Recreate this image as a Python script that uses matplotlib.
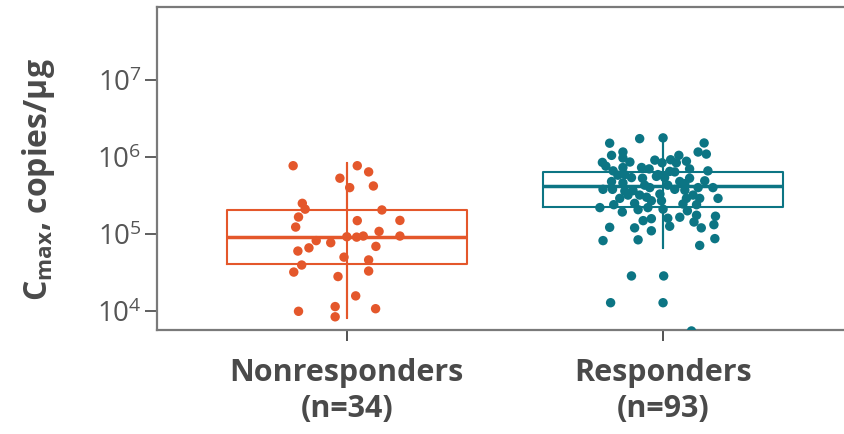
import numpy as np
import matplotlib
matplotlib.use("Agg")
import matplotlib.pyplot as plt
from matplotlib.ticker import NullLocator

plt.rcParams["font.family"] = ["Open Sans", "DejaVu Sans"]
plt.rcParams["mathtext.fontset"] = "custom"
plt.rcParams["mathtext.rm"] = "Open Sans"
plt.rcParams["mathtext.bf"] = "Open Sans:bold"

# category labels
groups = ["Nonresponders\n(n=34)", "Responders\n(n=93)"]

# box summary values (copies/ug)
q1 = [4.07e4, 2.24e5]
median = [9.1e4, 4.2e5]
q3 = [2.05e5, 6.4e5]
whis_lo = [8.1e3, 6.6e4]
whis_hi = [8.4e5, 1.93e6]

# individual points: jittered x position and Cmax
nonresp_x = [0.830, 1.033, 1.069, 0.978, 1.009, 1.084, 0.859, 0.868, 1.111, 0.847,
             1.033, 1.168, 0.838, 1.102, 0.903, 0.949, 1.031, 1.052, 1.168, 1.092,
             0.845, 0.880, 0.991, 1.069, 0.857, 0.832, 1.069, 0.972, 1.028, 0.847,
             0.963, 0.963, 1.091, 1.000]
nonresp_y = [7.7e5, 7.7e5, 6.4e5, 5.3e5, 4.0e5, 4.2e5, 2.5e5, 2.1e5, 2.05e5, 1.66e5,
             1.49e5, 1.5e5, 1.23e5, 1.08e5, 8.2e4, 7.7e4, 9.1e4, 9.4e4, 9.4e4, 6.9e4,
             6.0e4, 6.6e4, 5.0e4, 4.6e4, 3.95e4, 3.2e4, 3.3e4, 2.8e4, 1.57e4, 9.9e3,
             1.14e4, 8.4e3, 1.07e4, 9.2e4]

resp_x = [1.927, 1.832, 1.874, 1.838, 1.874, 1.809, 1.820, 1.843, 1.874, 1.880,
          1.933, 1.957, 1.901, 1.936, 1.838, 1.874, 1.811, 1.841, 1.880, 1.906,
          1.959, 1.980, 1.890, 1.927, 1.964, 1.801, 1.845, 1.872, 1.922, 1.964,
          1.938, 1.911, 1.832, 1.964, 1.811, 1.922,
          2.001, 2.131, 2.112, 2.138, 2.051, 2.025, 2.075, 1.998, 2.043, 2.085,
          2.022, 2.143, 1.985, 2.006, 2.054, 2.070, 2.133, 2.159, 2.038, 2.112,
          2.096, 1.991, 2.075, 2.175, 1.996, 2.064, 2.107, 2.001, 2.078, 2.054,
          2.107, 2.167, 2.099, 2.022, 2.162, 2.122, 2.165, 2.117,
          1.901, 2.003, 1.835, 2.001, 2.091,
          1.858, 1.896, 1.943, 1.949, 2.016, 2.038, 2.085, 2.117, 1.864, 1.953,
          2.016, 2.070, 1.911, 1.975]
resp_y = [1.73e6, 1.51e6, 1.16e6, 1.05e6, 9.7e5, 8.5e5, 7.6e5, 6.6e5, 7.3e5, 5.9e5,
          7.3e5, 7.0e5, 5.4e5, 5.3e5, 4.8e5, 4.6e5, 3.8e5, 3.8e5, 3.6e5, 3.65e5,
          4.0e5, 5.6e5, 3.2e5, 3.2e5, 2.7e5, 2.2e5, 2.4e5, 1.93e5, 2.07e5, 1.58e5,
          1.49e5, 1.2e5, 1.22e5, 1.1e5, 8.2e4, 8.4e4,
          1.77e6, 1.52e6, 1.16e6, 1.09e6, 1.05e6, 9.2e5, 8.8e5, 8.4e5, 8.4e5, 7.0e5,
          6.5e5, 6.6e5, 5.9e5, 5.4e5, 4.8e5, 4.5e5, 4.9e5, 4.0e5, 3.8e5, 4.0e5,
          3.2e5, 3.3e5, 2.9e5, 2.9e5, 2.7e5, 2.45e5, 2.4e5, 2.1e5, 2.0e5, 1.65e5,
          1.75e5, 1.7e5, 1.43e5, 1.26e5, 1.32e5, 1.2e5, 8.7e4, 7.1e4,
          2.85e4, 2.85e4, 1.28e4, 1.28e4, 5.5e3,
          5.8e5, 8.6e5, 4.3e5, 3.0e5, 4.3e5, 6.4e5, 5.3e5, 2.9e5, 2.9e5, 2.2e5,
          1.6e5, 3.7e5, 2.5e5, 9.1e5]

orange = "#E4572B"
teal = "#0C7584"
colors = [orange, teal]
text_grey = "#4a4a4a"

fig = plt.figure(figsize=(8.45, 4.34), dpi=100)
ax = fig.add_axes([157 / 845, 104 / 434, 688 / 845, 323 / 434])

positions = [1, 2]
for i in range(2):
    st = {"med": median[i], "q1": q1[i], "q3": q3[i],
          "whislo": whis_lo[i], "whishi": whis_hi[i], "fliers": []}
    ax.bxp([st], positions=[positions[i]], widths=0.76, showcaps=False,
           showfliers=False,
           boxprops=dict(color=colors[i], linewidth=1.5),
           medianprops=dict(color=colors[i], linewidth=2.5),
           whiskerprops=dict(color=colors[i], linewidth=1.5))
    # whisker runs straight through the box
    ax.vlines(positions[i], whis_lo[i], whis_hi[i], color=colors[i],
              linewidth=1.5, zorder=2)

ax.scatter(nonresp_x, nonresp_y, s=46, color=orange, edgecolors="none", zorder=3)
ax.scatter(resp_x, resp_y, s=46, color=teal, edgecolors="none", zorder=3)

ax.set_yscale("log")
ax.set_ylim(5.66e3, 8.87e7)
ax.set_xlim(0.399, 2.577)
ax.set_yticks([1e4, 1e5, 1e6, 1e7])
ax.yaxis.set_minor_locator(NullLocator())

ax.set_xticks(positions)
ax.set_xticklabels(groups, fontsize=22, fontweight="bold", color=text_grey,
                   linespacing=1.25)

ax.tick_params(axis="y", labelsize=20, labelcolor="#555555", color="#444444",
               length=9, width=1.2, pad=2)
ax.tick_params(axis="x", length=8, width=1.2, color="#333333", pad=12)

for side in ["left", "top", "bottom"]:
    ax.spines[side].set_color("#7a7a7a")
    ax.spines[side].set_linewidth(1.6)
ax.spines["right"].set_visible(False)

ax.set_ylabel(r"$\mathbf{C}_{\mathbf{max}}$, copies/µg", fontsize=23,
              fontweight="bold", color=text_grey)
ax.yaxis.set_label_coords(-100 / 688, 0.465)

fig.savefig("out.png", dpi=100)
